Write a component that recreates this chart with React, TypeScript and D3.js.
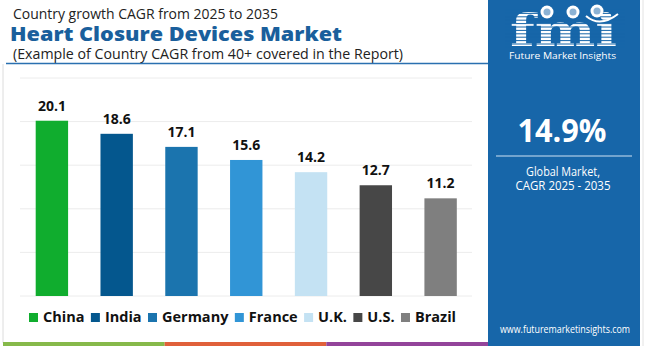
import React, { useEffect, useRef } from "react";
import * as d3 from "d3";

const categories = ["China", "India", "Germany", "France", "U.K.", "U.S.", "Brazil"];
const cagrValues = [20.1, 18.6, 17.1, 15.6, 14.2, 12.7, 11.2];
const barColors = ["#10ad2e", "#04578e", "#1b74ae", "#3195d6", "#c4e2f3", "#474747", "#7f7f7f"];
const gridTicks = [0, 5, 10, 15, 20, 25];
const titleTop = "Country growth CAGR from 2025 to 2035";
const titleMain = "Heart Closure Devices Market";
const titleSub = "(Example of Country CAGR from 40+ covered in the Report)";
const globalCagr = "14.9%";
const globalLabel1 = "Global Market,";
const globalLabel2 = "CAGR 2025 - 2035";
const website = "www.futuremarketinsights.com";
const stripeColors = ["#86b94a", "#e0603a", "#93449a"];

const FONT = "'Open Sans', 'DejaVu Sans', sans-serif";
const PANEL = "#1766a9";

export default function App() {
  const ref = useRef<SVGSVGElement>(null);

  useEffect(() => {
    const svg = d3.select(ref.current);
    svg.selectAll("*").remove();

    const W = 650, H = 346;
    svg.append("rect").attr("width", W).attr("height", H).attr("fill", "#ffffff");

    // Titles
    svg.append("text").attr("x", 13).attr("y", 19).text(titleTop)
      .attr("font-family", FONT).attr("font-size", 14).attr("fill", "#222")
      .attr("textLength", 265).attr("lengthAdjust", "spacingAndGlyphs");
    svg.append("text").attr("x", 10).attr("y", 41).text(titleMain)
      .attr("font-family", FONT).attr("font-size", 19).attr("font-weight", 800).attr("fill", "#1a5f9c")
      .attr("textLength", 332).attr("lengthAdjust", "spacingAndGlyphs");
    svg.append("text").attr("x", 13).attr("y", 59).text(titleSub)
      .attr("font-family", FONT).attr("font-size", 14).attr("fill", "#222")
      .attr("textLength", 390).attr("lengthAdjust", "spacingAndGlyphs");
    svg.append("line").attr("x1", 6).attr("x2", 488).attr("y1", 63.5).attr("y2", 63.5)
      .attr("stroke", "#2a70b0").attr("stroke-width", 1.5);

    // frame
    svg.append("line").attr("x1", 3).attr("x2", 3).attr("y1", 64).attr("y2", 343)
      .attr("stroke", "#dcdcdc").attr("stroke-width", 1);
    svg.append("line").attr("x1", 643).attr("x2", 643).attr("y1", 0).attr("y2", 346)
      .attr("stroke", "#e2e2e2").attr("stroke-width", 1);

    // Scales
    const x = d3.scaleBand<string>().domain(categories).range([19.5, 473]).paddingInner(0.5).paddingOuter(0.25);
    const y = d3.scaleLinear().domain([0, 25]).range([296, 78]);

    const g = svg.append("g");
    g.selectAll("line.grid").data(gridTicks).join("line")
      .attr("x1", 20).attr("x2", 472)
      .attr("y1", (d) => y(d)).attr("y2", (d) => y(d))
      .attr("stroke", "#ececec").attr("stroke-width", 1);

    g.selectAll("rect.bar").data(categories).join("rect")
      .attr("x", (d) => x(d)!)
      .attr("width", x.bandwidth())
      .attr("y", (d, i) => y(cagrValues[i]))
      .attr("height", (d, i) => y(0) - y(cagrValues[i]))
      .attr("fill", (d, i) => barColors[i]);

    g.selectAll("text.val").data(categories).join("text")
      .attr("x", (d) => x(d)! + x.bandwidth() / 2)
      .attr("y", (d, i) => y(cagrValues[i]) - 10)
      .attr("text-anchor", "middle")
      .attr("font-family", FONT).attr("font-size", 14).attr("font-weight", 700).attr("fill", "#111")
      .text((d, i) => cagrValues[i].toFixed(1));

    // Legend
    const leg = svg.append("g");
    const sq = 9, gapText = 5;
    const items = categories.map((c, i) => {
      const t = leg.append("text").text(c)
        .attr("font-family", FONT).attr("font-size", 14.5).attr("font-weight", 700).attr("fill", "#111")
        .attr("y", 322);
      const w = (t.node() as SVGTextElement).getComputedTextLength();
      const r = leg.append("rect").attr("width", sq).attr("height", sq).attr("y", 313).attr("fill", barColors[i]);
      return { t, r, w };
    });
    const start = 29, end = 456;
    const content = items.reduce((s, it) => s + sq + gapText + it.w, 0);
    const gap = (end - start - content) / (items.length - 1);
    let cx = start;
    items.forEach((it) => {
      it.r.attr("x", cx);
      it.t.attr("x", cx + sq + gapText);
      cx += sq + gapText + it.w + gap;
    });

    // Bottom stripes
    const stripeX = d3.scaleLinear().domain([0, 3]).range([3, 488]);
    svg.selectAll("rect.stripe").data(stripeColors).join("rect")
      .attr("x", (d, i) => stripeX(i)).attr("width", (stripeX(1) - stripeX(0)))
      .attr("y", 342).attr("height", 4).attr("fill", (d) => d);

    // Right panel
    const p = svg.append("g");
    p.append("rect").attr("x", 488).attr("y", 0).attr("width", 152).attr("height", H).attr("fill", PANEL);

    // logo
    p.append("text").attr("x", 510).attr("y", 46).text("fmi")
      .attr("font-family", "'DejaVu Serif', serif").attr("font-size", 44).attr("font-weight", 700)
      .attr("fill", "#ffffff").attr("textLength", 107).attr("lengthAdjust", "spacingAndGlyphs");
    d3.range(10, 48, 3.4).forEach((yy) => {
      p.append("line").attr("x1", 505).attr("x2", 625).attr("y1", yy).attr("y2", yy)
        .attr("stroke", PANEL).attr("stroke-width", 1);
    });
    [[547, 12], [573, 12], [597, 11]].forEach(([cx0, cy0]) => {
      p.append("circle").attr("cx", cx0).attr("cy", cy0).attr("r", 6.5).attr("fill", "#ffffff");
      p.append("circle").attr("cx", cx0).attr("cy", cy0).attr("r", 3.5).attr("fill", PANEL).attr("opacity", 0.5);
    });
    p.append("path").attr("d", "M586,16 Q600,28 618,14").attr("fill", "none").attr("stroke", "#fff").attr("stroke-width", 2);
    p.append("text").attr("x", 509).attr("y", 59).text("Future Market Insights")
      .attr("font-family", FONT).attr("font-size", 9.5).attr("fill", "#ffffff")
      .attr("textLength", 107).attr("lengthAdjust", "spacingAndGlyphs");

    p.append("text").attr("x", 562).attr("y", 142).attr("text-anchor", "middle").text(globalCagr)
      .attr("font-family", FONT).attr("font-size", 33).attr("font-weight", 700).attr("fill", "#ffffff")
      .attr("textLength", 89).attr("lengthAdjust", "spacingAndGlyphs");
    p.append("line").attr("x1", 496).attr("x2", 632).attr("y1", 156).attr("y2", 156)
      .attr("stroke", "#cfe2f3").attr("stroke-width", 1.2);
    p.append("text").attr("x", 563).attr("y", 176).attr("text-anchor", "middle").text(globalLabel1)
      .attr("font-family", FONT).attr("font-size", 12).attr("fill", "#ffffff")
      .attr("textLength", 74).attr("lengthAdjust", "spacingAndGlyphs");
    p.append("text").attr("x", 563).attr("y", 190).attr("text-anchor", "middle").text(globalLabel2)
      .attr("font-family", FONT).attr("font-size", 12).attr("fill", "#ffffff")
      .attr("textLength", 95).attr("lengthAdjust", "spacingAndGlyphs");
    p.append("text").attr("x", 565).attr("y", 333).attr("text-anchor", "middle").text(website)
      .attr("font-family", FONT).attr("font-size", 10.5).attr("fill", "#ffffff")
      .attr("textLength", 130).attr("lengthAdjust", "spacingAndGlyphs");
  }, []);

  return (
    <svg ref={ref} width={650} height={346} style={{ display: "block", position: "absolute", left: 0, top: 0 }} />
  );
}
